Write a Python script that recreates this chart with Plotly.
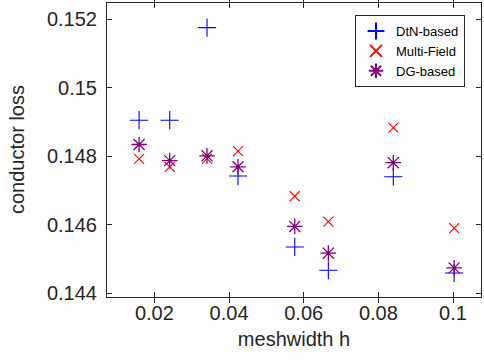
import plotly.graph_objects as go

h = [0.0159, 0.0241, 0.0341, 0.0424, 0.0576, 0.0666, 0.0840, 0.1003]
dtn = [0.14905, 0.14905, 0.15175, 0.14742, 0.14535, 0.14467, 0.14740, 0.14459]
multi = [0.14792, 0.14769, 0.14793, 0.14815, 0.14683, 0.14609, 0.14883, 0.14590]
dg = [0.14834, 0.14787, 0.14801, 0.14769, 0.14595, 0.14517, 0.14781, 0.14474]

xticks = [0.02, 0.04, 0.06, 0.08, 0.1]
xticklabels = ["0.02", "0.04", "0.06", "0.08", "0.1"]
yticks = [0.144, 0.146, 0.148, 0.15, 0.152]
yticklabels = ["0.144", "0.146", "0.148", "0.15", "0.152"]

x_range = [0.0073, 0.1075]
y_range = [0.14389, 0.15247]

fig = go.Figure()
fig.add_trace(go.Scatter(x=h, y=dtn, mode="markers", name="DtN-based",
                         marker=dict(symbol="cross-thin-open", size=13, color="#0000ff",
                                     line=dict(color="#0000ff", width=1.1))))
fig.add_trace(go.Scatter(x=h, y=multi, mode="markers", name="Multi-Field",
                         marker=dict(symbol="x-thin-open", size=10, color="#ff0000",
                                     line=dict(color="#ff0000", width=1.1))))
fig.add_trace(go.Scatter(x=h, y=dg, mode="markers", name="DG-based",
                         marker=dict(symbol="asterisk-open", size=13, color="#800080",
                                     line=dict(color="#800080", width=1.3))))
# invisible carrier so the offset label axis is drawn
fig.add_trace(go.Scatter(x=h, y=dg, mode="markers", yaxis="y2", showlegend=False,
                         hoverinfo="skip", marker=dict(opacity=0)))

tickfont = dict(family="Liberation Sans, Arial", size=20, color="#262626")
axis_common = dict(showline=True, linecolor="#262626", linewidth=1, mirror="allticks",
                   ticks="inside", ticklen=5, tickcolor="#262626", showgrid=False,
                   zeroline=False, automargin=False, tickfont=tickfont)

L, R = 97, 3
plot_w = 484 - L - R

fig.update_layout(
    width=484, height=362,
    margin=dict(l=L, r=R, t=3, b=65),
    paper_bgcolor="white", plot_bgcolor="white",
    font=dict(family="Liberation Sans, Arial", color="#262626"),
    xaxis=dict(range=x_range, tickvals=xticks, ticktext=xticklabels,
               domain=[10 / plot_w, 1], ticklabelposition="outside", ticklabelstandoff=-2,
               title=dict(text="meshwidth h", font=dict(size=20), standoff=8), **axis_common),
    yaxis=dict(range=y_range, tickvals=yticks, showticklabels=False, **axis_common),
    yaxis2=dict(range=y_range, tickvals=yticks, ticktext=yticklabels, overlaying="y",
                anchor="free", position=0, side="left", showline=False, ticks="inside",
                ticklen=5, tickcolor="rgba(0,0,0,0)", showgrid=False, zeroline=False,
                automargin=False, tickfont=tickfont),
    annotations=[dict(text="conductor loss", textangle=-90, xref="paper", yref="paper",
                      x=(17 - L) / plot_w, y=0.5, xanchor="center", yanchor="middle",
                      showarrow=False, font=dict(size=20, color="#262626"))],
    legend=dict(x=(355 - L) / plot_w, y=0.959, xanchor="left", yanchor="top",
                bgcolor="white", bordercolor="#262626", borderwidth=1,
                font=dict(size=13, color="#000000"), itemsizing="constant",
                tracegroupgap=0),
    showlegend=True,
)

fig.write_html("out.html", config={"displayModeBar": False},
               post_script="document.body.style.margin='0';")
